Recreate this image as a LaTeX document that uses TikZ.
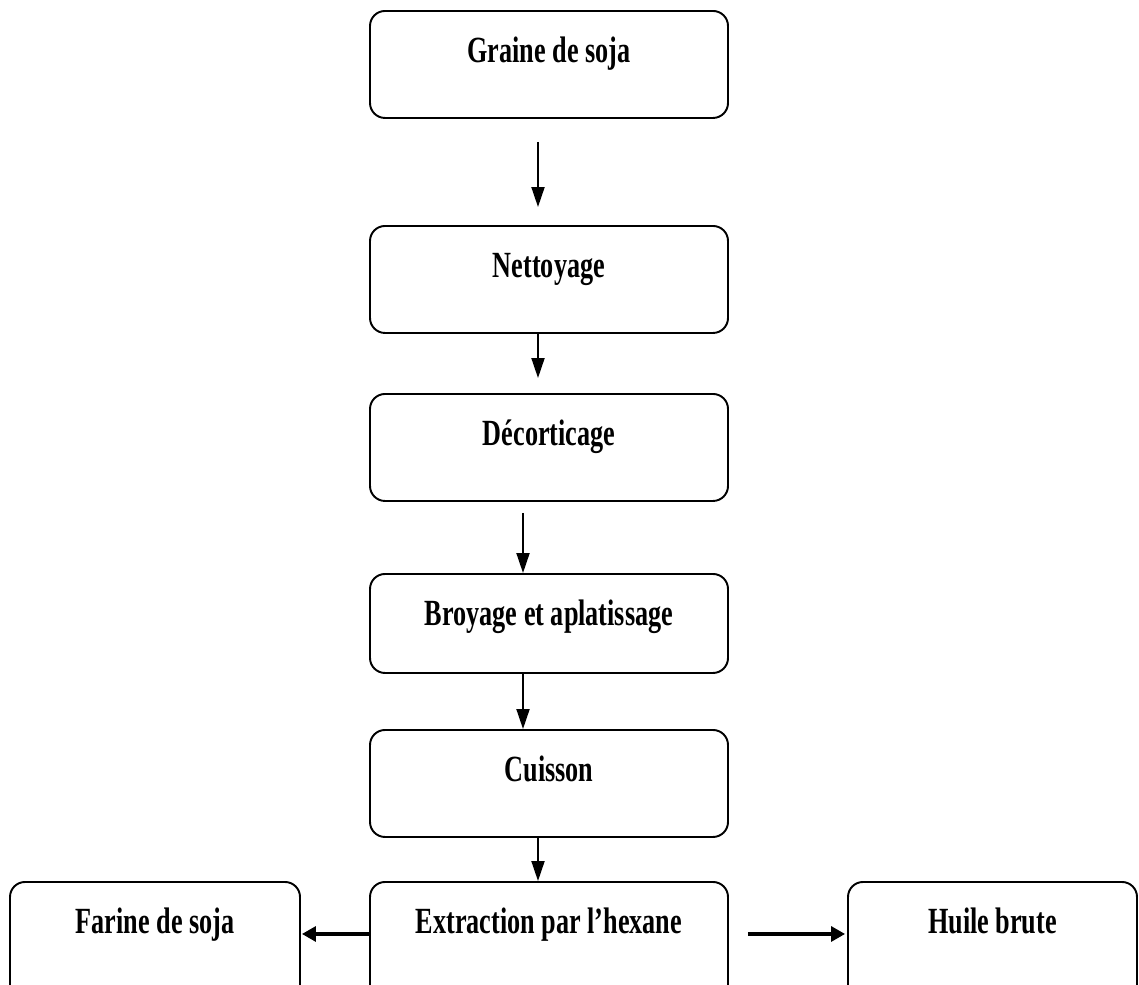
\documentclass[tikz,border=0pt]{standalone}
\usepackage{fontspec}
\setmainfont{Liberation Serif}[FakeStretch=0.71]
\usetikzlibrary{arrows.meta}

\begin{document}
\begin{tikzpicture}[
  etape/.style={draw, line width=1.1pt, rounded corners=0.3cm, anchor=north,
    inner sep=0pt, minimum width=7.16cm, text height=1.04cm,
    text depth=1.1cm, font=\bfseries\fontsize{21}{25}\selectfont},
  fleche/.style={line width=1.1pt, -{Triangle[length=0.4cm,width=0.26cm]}},
  sortie/.style={line width=1.8pt, -{Triangle[length=0.28cm,width=0.3cm]}}
]
  \useasboundingbox (0,0) rectangle (22.78,-19.68);
  \clip (0,0) rectangle (22.78,-19.68);
  \node[etape] (graine) at (10.98,-0.20) {Graine de soja};
  \node[etape] (nettoyage) at (10.98,-4.50) {Nettoyage};
  \node[etape] (decorticage) at (10.98,-7.86) {Décorticage};
  \node[etape, text depth=0.94cm] (broyage) at (10.98,-11.46) {Broyage et aplatissage};
  \node[etape] (cuisson) at (10.98,-14.58) {Cuisson};
  \node[etape, text depth=2cm] (extraction) at (10.98,-17.62) {Extraction par l’hexane};
  \node[etape, text depth=2cm, minimum width=5.8cm] (farine) at (3.10,-17.62) {Farine de soja};
  \node[etape, text depth=2cm, minimum width=5.78cm] (huile) at (19.85,-17.62) {Huile brute};
  \draw[fleche, shorten <=0.46cm, shorten >=0.36cm] ([xshift=-0.22cm]graine.south) -- ([xshift=-0.22cm]nettoyage.north);
  \draw[fleche, shorten >=0.3cm] ([xshift=-0.22cm]nettoyage.south) -- ([xshift=-0.22cm]decorticage.north);
  \draw[fleche, shorten <=0.22cm] ([xshift=-0.52cm]decorticage.south) -- ([xshift=-0.52cm]broyage.north);
  \draw[fleche] ([xshift=-0.52cm]broyage.south) -- ([xshift=-0.52cm]cuisson.north);
  \draw[fleche] ([xshift=-0.22cm]cuisson.south) -- ([xshift=-0.22cm]extraction.north);
  \draw[sortie, shorten >=0.02cm] (extraction.base west) -- (farine.base east);
  \draw[sortie, shorten <=0.38cm, shorten >=0.04cm] (extraction.base east) -- (huile.base west);

\end{tikzpicture}
\end{document}
